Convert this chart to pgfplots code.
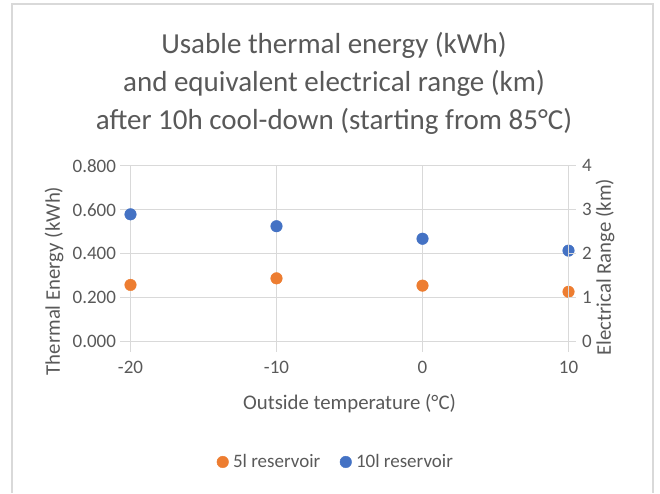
\documentclass[border=0pt]{standalone}
\usepackage{fontspec}
\setmainfont{Carlito}
\usepackage{pgfplots}
\pgfplotsset{compat=1.18}

\definecolor{txtgray}{HTML}{595959}
\definecolor{gridgray}{HTML}{D9D9D9}
\definecolor{xlorange}{HTML}{ED7D31}
\definecolor{xlblue}{HTML}{4472C4}
\newcommand\ticksize{\fontsize{19}{22}\selectfont}
\newcommand\labsize{\fontsize{20.8}{24}\selectfont}

\pgfplotsset{
  common/.style={
    scale only axis, width=438pt, height=176pt,
    at={(130.5pt,151.3pt)}, anchor=south west,
    xmin=-20, xmax=10,
    tick align=outside,
    major tick style={gridgray, line width=1pt},
    axis line style={gridgray, line width=1pt},
    tick label style={text=txtgray, font=\ticksize},
  },
}

\begin{document}
\begin{tikzpicture}[x=1pt,y=1pt]
\useasboundingbox (0,0) rectangle (660,493);
% chart frame (bottom edge is cut off in the reference)
\draw[gridgray, line width=2pt] (12,0) -- (12,489) -- (653,489) -- (653,0);

% title
\begin{scope}[every node/.style={text=txtgray, font=\fontsize{29}{35}\selectfont, anchor=base}]
  \node at (334,439.7) {Usable thermal energy (kWh)};
  \node at (334,401.3) {and equivalent electrical range (km)};
  \node at (334,363) {after 10h cool-down (starting from 85°C)};
\end{scope}

\begin{axis}[common,
  ymin=0, ymax=0.8,
  xtick={-20,-10,0,10}, xticklabels={-20,-10,0,10},
  ytick={0,0.2,0.4,0.6,0.8},
  yticklabels={0.000,0.200,0.400,0.600,0.800},
  xtick pos=bottom, ytick pos=left,
  major tick length=10pt,
  xticklabel style={yshift=-6pt},
  yticklabel style={xshift=-1pt},
  grid=major, grid style={gridgray, line width=1pt},
  clip=false,
  xlabel={Outside temperature (°C)},
  ylabel={Thermal Energy (kWh)},
  every axis x label/.style={at={(axis description cs:0.5,-0.388)}, anchor=base,
    text=txtgray, font=\labsize},
  every axis y label/.style={at={(axis description cs:-0.1747,0.345)}, rotate=90,
    anchor=center, text=txtgray, font=\labsize},
  legend style={at={(axis description cs:0.4667,-0.6835)}, anchor=center,
    draw=none, fill=none, legend columns=2,
    font=\ticksize, text=txtgray,
    column sep=4.5pt,
    /tikz/every even column/.append style={column sep=19.7pt},
    nodes={inner sep=0pt}},
  legend image code/.code={\draw[#1] plot coordinates {(0pt,0pt)};},
]
\addplot[only marks, mark=*, mark size=5.8pt, color=xlorange,
  mark options={draw=none, fill=xlorange}]
  coordinates {(-20,0.258) (-10,0.288) (0,0.255) (10,0.227)};
\addlegendentry{5l reservoir}
\addplot[only marks, mark=*, mark size=5.8pt, color=xlblue,
  mark options={draw=none, fill=xlblue}]
  coordinates {(-20,0.579) (-10,0.525) (0,0.468) (10,0.414)};
\addlegendentry{10l reservoir}
\end{axis}

\begin{axis}[common,
  ymin=0, ymax=4,
  axis x line=none, axis y line*=right,
  ytick={0,1,2,3,4}, yticklabels={0,1,2,3,4},
  major tick length=7pt,
  yticklabel style={xshift=3pt},
  ylabel={Electrical Range (km)},
  every axis y label/.style={at={(axis description cs:1.0833,0.424)}, rotate=90,
    anchor=center, text=txtgray, font=\labsize},
]
\end{axis}
\end{tikzpicture}
\end{document}
